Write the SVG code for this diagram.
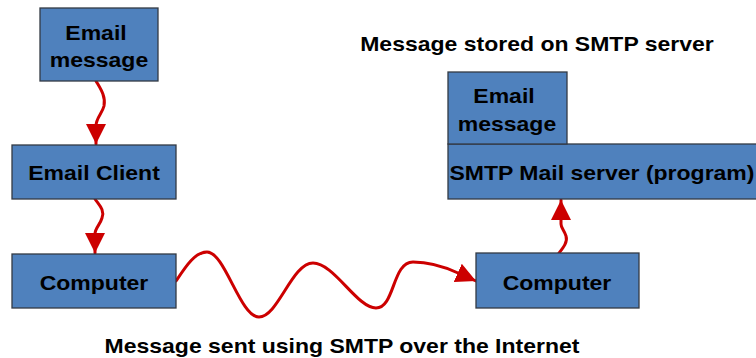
<svg xmlns="http://www.w3.org/2000/svg" width="756" height="358" viewBox="0 0 756 358">
<defs>
<style>
.box{fill:#4F81BD;stroke:#333A44;stroke-width:1.3}
.t{font-family:"Liberation Sans",Arial,sans-serif;font-weight:bold;font-size:19.5px;fill:#000;text-anchor:middle;transform-box:fill-box;transform-origin:center;transform:scaleX(1.18)}
.c{fill:none;stroke:#CC0000;stroke-width:3;stroke-linecap:round}
</style>
<marker id="ah" markerUnits="userSpaceOnUse" markerWidth="20" markerHeight="20" refX="20" refY="10" orient="auto" viewBox="0 0 20 20">
<path d="M0,0 L20,10 L0,20 z" fill="#CC0000"/>
</marker>
</defs>
<rect width="756" height="358" fill="#fff"/>
<g id="connectors">
<path class="c" marker-end="url(#ah)" d="M96,81 C100,88 106,96 104,106 C102,114 96,118 96,126 L96,144"/>
<path class="c" marker-end="url(#ah)" d="M95,199 C99,205 105,210 102,218 C100,225 95,228 95,234 L95,253"/>
<path class="c" marker-end="url(#ah)" d="M176,281 C186,266 195,252 207,252 C225,252 240,317 259,317 C278,317 292,263 313,263 C334,263 357,308 376,308 C395,308 392,262 413,262 C430,262 445,267 458,273 L476,281"/>
<path class="c" marker-end="url(#ah)" d="M559,253 C563,248 568,242 566,236 C564,230 561,228 561,224 L561,200"/>
</g>
<g id="email-message-left">
<rect class="box" x="40" y="8" width="118" height="73"/>
<text class="t" x="96" y="40">Email</text>
<text class="t" x="99" y="67">message</text>
</g>
<g id="email-client">
<rect class="box" x="12" y="145" width="164" height="54"/>
<text class="t" x="94" y="180">Email Client</text>
</g>
<g id="computer-left">
<rect class="box" x="12" y="254" width="164" height="54"/>
<text class="t" x="94" y="290">Computer</text>
</g>
<g id="smtp-server">
<rect class="box" x="448" y="144" width="320" height="55"/>
<text class="t" x="602" y="180">SMTP Mail server (program)</text>
</g>
<g id="email-message-right">
<rect class="box" x="448" y="72" width="119" height="72"/>
<text class="t" x="504" y="103">Email</text>
<text class="t" x="507" y="131">message</text>
</g>
<g id="computer-right">
<rect class="box" x="476" y="253" width="163" height="55"/>
<text class="t" x="557" y="290">Computer</text>
</g>
<g id="labels">
<text class="t" x="537" y="51">Message stored on SMTP server</text>
<text class="t" x="342" y="353">Message sent using SMTP over the Internet</text>
</g>
</svg>
